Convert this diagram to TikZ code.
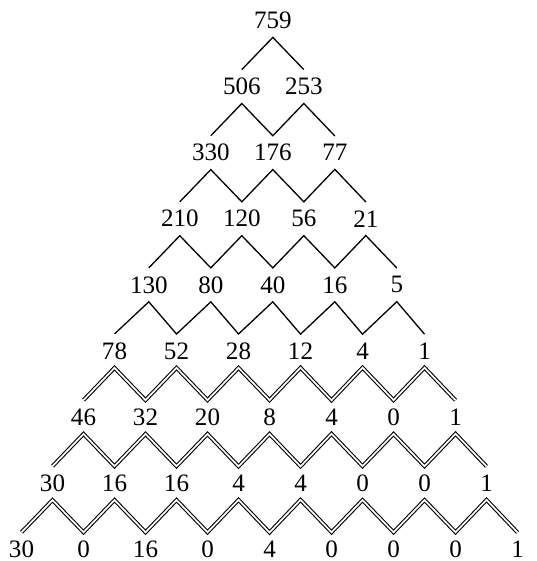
\documentclass[tikz,border=0pt]{standalone}
\usepackage{fontspec}
\setmainfont{Liberation Serif}

\tikzset{
  num/.style={inner xsep=1pt,inner ysep=3.7pt,font=\fontsize{11.5}{14}\selectfont},
  plainlink/.style={line width=0.6pt,line join=miter},
  doublelink/.style={double,double distance=0.8pt,line width=0.5pt,line join=miter},
}

\begin{document}
\begin{tikzpicture}
\useasboundingbox (0,0) rectangle (8.645,-9.048);
% ---------- numbers ----------
\foreach \r/\row in {0/{759},1/{506,253},2/{330,176,77},3/{210,120,56,21},
    4/{130,80,40,16,5},5/{78,52,28,12,4,1},6/{46,32,20,8,4,0,1},
    7/{30,16,16,4,4,0,0,1},8/{30,0,16,0,4,0,0,0,1}}{
  \pgfmathsetmacro\xc{\r<5 ? 4.40 : 4.347}
  \foreach \v [count=\k from 0] in \row
    \node[num] (n-\r-\k) at ({\xc+\k-\r/2},{-0.33-1.066*\r}) {\v};
}
% ---------- zigzags ----------
\foreach \r in {0,...,7}{
  \pgfmathtruncatemacro\s{\r+1}
  \ifnum\r<5 \def\linkstyle{plainlink}\else\def\linkstyle{doublelink}\fi
  \draw[\linkstyle] (n-\s-0.north)
    \foreach \k [count=\kk from 1] in {0,...,\r}{ -- (n-\r-\k.south) -- (n-\s-\kk.north)};
}
\end{tikzpicture}
\end{document}
